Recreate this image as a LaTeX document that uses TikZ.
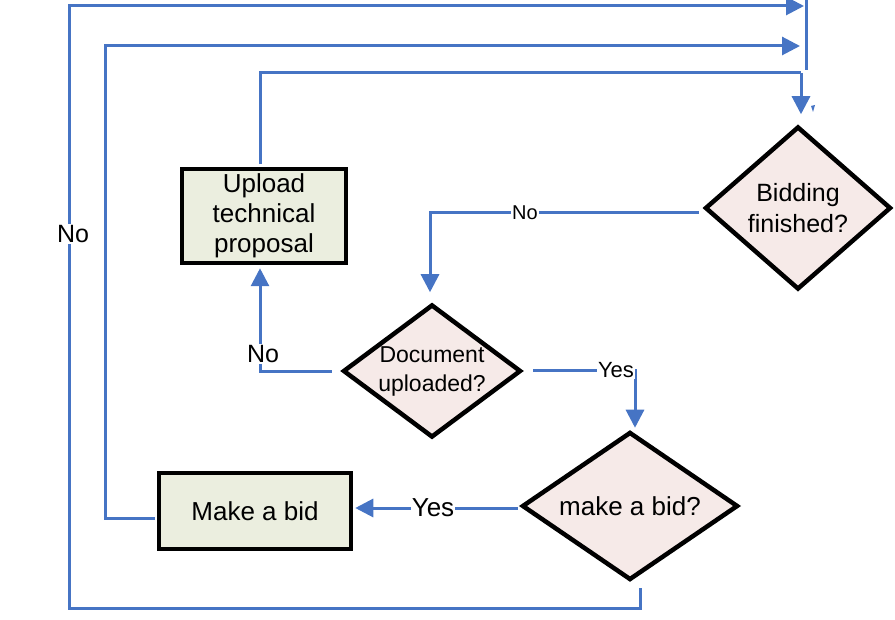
\documentclass[tikz,border=0pt]{standalone}
\usepackage{fontspec}
\setmainfont{Liberation Sans}
\usetikzlibrary{shapes.geometric,arrows.meta,calc}
\definecolor{flowblue}{RGB}{70,116,196}
\definecolor{boxfill}{RGB}{235,238,223}
\definecolor{decfill}{RGB}{246,234,232}
\begin{document}
\begin{tikzpicture}[x=1pt,y=-1pt,
  process/.style={draw=black,line width=4.5pt,fill=boxfill,rectangle,inner sep=0pt,align=center},
  decision/.style={draw=black,line width=4.5pt,fill=decfill,diamond,inner sep=0pt,align=center,line join=miter},
  flow/.style={draw=flowblue,line width=3pt},
  arr/.style={flow,-{Triangle[width=18pt,length=18pt]}},
  lbl/.style={fill=white,inner sep=1pt}
]
\useasboundingbox (0,0) rectangle (895,620);

% decisions
\node[decision,minimum width=186pt,minimum height=163pt,shape aspect=1.14,
      font=\fontsize{25}{31}\selectfont] (bidding) at (798,208) {Bidding\\finished?};
\node[decision,minimum width=178pt,minimum height=133pt,shape aspect=1.34,
      font=\fontsize{23}{29}\selectfont] (docup) at (432,371) {Document\\uploaded?};
\node[decision,minimum width=216pt,minimum height=148pt,shape aspect=1.46,
      font=\fontsize{26}{30}\selectfont] (askbid) at (630,506) {make a bid?};

% processes
\node[process,minimum width=164pt,minimum height=94pt,
      font=\fontsize{26}{30}\selectfont] (upload) at (264,216) {Upload\\technical\\proposal};
\node[process,minimum width=192pt,minimum height=76pt,
      font=\fontsize{26}{30}\selectfont] (makebid) at (255,511) {Make a bid};

% merge bar at the top right
\coordinate (mergetop) at (806,0);
\coordinate (mergebot) at (806,70);
\draw[flow] (mergetop) -- (mergebot);

% outer loop: make a bid? -> No -> back to the top
\draw[arr] ($(askbid.south)+(10,6)$) -- ++(0,20) -| (69,6) -- ($(mergetop)+(-2,6)$);
\node[lbl,font=\fontsize{25}{30}\selectfont] (nooutside) at (73,234) {No};

% after the bid, back to the top
\draw[arr] ($(makebid.west)+(-2,7)$) -- (105,518) -- (105,46) -- ($(mergetop)+(-6,46)$);

% after the upload, back to the check
\draw[flow] ($(upload.north)+(-4,-3)$) -- (260,73) -- (801,73);
\draw[arr] (801,73) -- ($(bidding.north)+(3,-10)$);
\fill[flowblue] (811,106) -- (815,105) -- (813,112) -- cycle;

% bidding finished? -> No
\draw[arr] ($(bidding.west)+(-4,5)$) -- (430,213) -- ($(docup.north)+(-2,-10)$);
\node[lbl,font=\fontsize{20}{24}\selectfont] (nobid) at (525,213) {No};

% document uploaded? -> No
\draw[arr] ($(docup.west)+(-9,1)$) -- (260,372) -- ($(upload.south)+(-4,3)$);
\node[lbl,font=\fontsize{25}{30}\selectfont] (nodoc) at (263,354) {No};

% document uploaded? -> Yes
\draw[arr] ($(docup.east)+(10,0)$) -- (635,371) -- ($(askbid.north)+(5,-2)$);
\node[lbl,font=\fontsize{22}{26}\selectfont] (yesdoc) at (616,370) {Yes};

% make a bid? -> Yes
\draw[arr] ($(askbid.west)+(-2,2)$) -- ($(makebid.east)+(2,-3)$);
\node[lbl,font=\fontsize{26}{30}\selectfont] (yesbid) at (433,508) {Yes};
\end{tikzpicture}
\end{document}
